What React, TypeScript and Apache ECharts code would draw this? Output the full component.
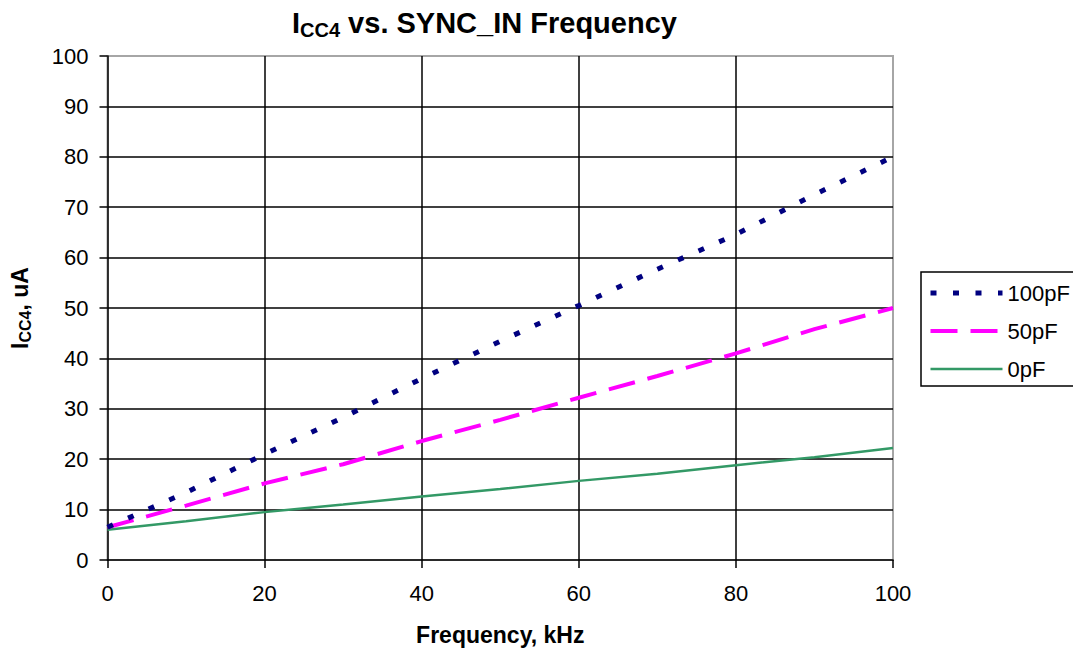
import React, { useEffect, useRef } from "react";
import * as echarts from "echarts";

const frequencies = [0, 10, 20, 30, 40, 50, 60, 70, 80, 90, 100];
const icc100pF = [6.5, 13.4, 21, 28.3, 36, 43.4, 50.5, 57.7, 64.6, 72.5, 80];
const icc50pF = [6.5, 10.8, 15.2, 19, 23.6, 27.8, 32.2, 36.5, 41, 45.8, 50];
const icc0pF = [6, 7.7, 9.5, 11, 12.6, 14.1, 15.7, 17.1, 18.8, 20.4, 22.2];
const seriesNames = ["100pF", "50pF", "0pF"];

const FONT = "'Liberation Sans', Arial, Helvetica, sans-serif";

const COLORS = ["#000080", "#ff00ff", "#339966"];
const LINE_STYLES: any[] = [
  { color: COLORS[0], width: 5, type: [6, 16.5], cap: "butt" },
  { color: COLORS[1], width: 4, type: [27, 13], cap: "butt" },
  { color: COLORS[2], width: 2.5, type: "solid" },
];

export default function App() {
  const ref = useRef<HTMLDivElement>(null);

  useEffect(() => {
    if (!ref.current) return;
    const chart = echarts.init(ref.current, null, { renderer: "svg" });
    const toPairs = (vals: number[]) => frequencies.map((f, i) => [f, vals[i]]);
    const seriesValues = [icc100pF, icc50pF, icc0pF];

    chart.setOption({
      animation: false,
      backgroundColor: "#ffffff",
      textStyle: { fontFamily: FONT, color: "#000" },
      title: {
        left: 292,
        top: 6,
        padding: 0,
        text: "{m|I}{s|CC4}{m| vs. SYNC_IN Frequency}",
        textStyle: {
          rich: {
            m: { fontFamily: FONT, fontSize: 29, fontWeight: "bold", color: "#000", lineHeight: 34 },
            s: { fontFamily: FONT, fontSize: 20, fontWeight: "bold", color: "#000", lineHeight: 20, verticalAlign: "bottom" },
          },
        },
      },
      grid: {
        left: 105,
        top: 56,
        width: 788,
        height: 504,
        show: true,
        borderColor: "#a6a6a6",
        borderWidth: 2,
        backgroundColor: "transparent",
      },
      legend: {
        orient: "vertical",
        left: 921,
        top: 272,
        padding: [9, 24, 5, 7],
        borderColor: "#000",
        borderWidth: 1.5,
        backgroundColor: "#fff",
        itemWidth: 72,
        itemHeight: 14,
        itemGap: 14,
        data: seriesNames.map((n, i) => ({
          name: n,
          itemStyle: { opacity: 0 },
          lineStyle: { ...LINE_STYLES[i] },
        })),
        textStyle: { fontFamily: FONT, fontSize: 22, color: "#000", lineHeight: 24 },
      },
      xAxis: {
        type: "value",
        min: 0,
        max: 100,
        interval: 20,
        name: "Frequency, kHz",
        nameLocation: "middle",
        nameGap: 63,
        nameTextStyle: { fontFamily: FONT, fontSize: 23, fontWeight: "bold", color: "#000" },
        axisLine: { show: true, lineStyle: { color: "#000", width: 1.5 } },
        axisTick: { show: true, inside: false, length: 8, lineStyle: { color: "#000", width: 1.5 } },
        axisLabel: { fontFamily: FONT, fontSize: 22, color: "#000", margin: 22 },
        splitLine: { show: true, showMinLine: false, showMaxLine: false, lineStyle: { color: "#000", width: 1.5 } },
      },
      yAxis: {
        type: "value",
        min: 0,
        max: 100,
        interval: 10,
        name: "{m|I}{s|CC4}{m|, uA}",
        nameLocation: "middle",
        nameGap: 74,
        nameRotate: 90,
        nameTextStyle: {
          rich: {
            m: { fontFamily: FONT, fontSize: 23, fontWeight: "bold", color: "#000", lineHeight: 28 },
            s: { fontFamily: FONT, fontSize: 16, fontWeight: "bold", color: "#000", lineHeight: 16, verticalAlign: "bottom" },
          },
        },
        axisLine: { show: true, lineStyle: { color: "#000", width: 1.5 } },
        axisTick: { show: true, inside: false, length: 8, lineStyle: { color: "#000", width: 1.5 } },
        axisLabel: { fontFamily: FONT, fontSize: 22, color: "#000", margin: 19 },
        splitLine: { show: true, showMinLine: false, showMaxLine: false, lineStyle: { color: "#000", width: 1.5 } },
      },
      series: seriesNames.map((n, i) => ({
        name: n,
        type: "line",
        data: toPairs(seriesValues[i]),
        symbol: "none",
        itemStyle: { color: COLORS[i] },
        lineStyle: { ...LINE_STYLES[i] },
        z: 4 - i,
      })),
    });

    return () => chart.dispose();
  }, []);

  return (
    <div
      ref={ref}
      style={{ position: "fixed", left: 0, top: 0, width: 1073, height: 651, background: "#fff" }}
    />
  );
}
